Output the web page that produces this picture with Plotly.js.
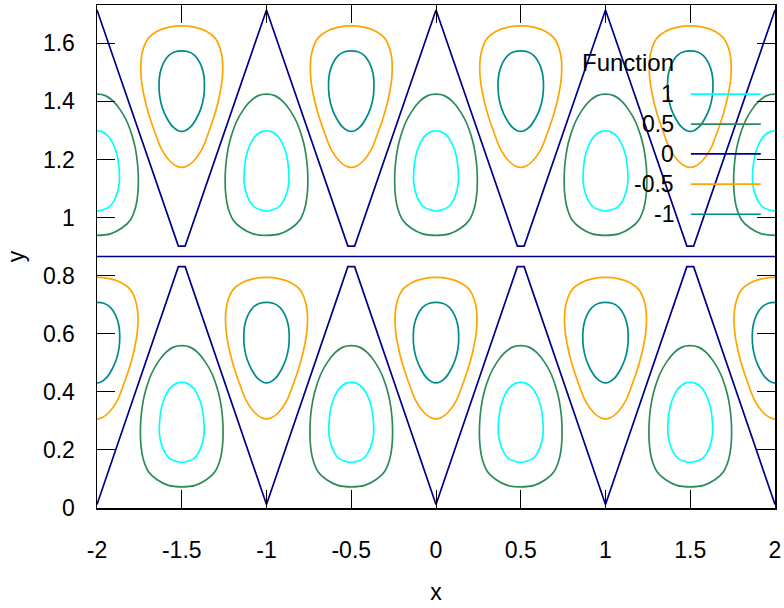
<!DOCTYPE html>
<html>
<head>
<meta charset="utf-8">
<script src="https://cdn.plot.ly/plotly-3.0.1.min.js"></script>
<style>
  html, body { margin: 0; padding: 0; background: #ffffff; }
  #chart { width: 784px; height: 608px; }
</style>
</head>
<body>
<div id="chart"></div>
<script>
// ---------- data ----------
const xTickVals = [-2, -1.5, -1, -0.5, 0, 0.5, 1, 1.5, 2];
const xTickText = ['-2', '-1.5', '-1', '-0.5', '0', '0.5', '1', '1.5', '2'];
const yTickVals = [0, 0.2, 0.4, 0.6, 0.8, 1, 1.2, 1.4, 1.6];
const yTickText = ['0', '0.2', '0.4', '0.6', '0.8', '1', '1.2', '1.4', '1.6'];

const levelNames = ['1', '0.5', '0', '-0.5', '-1'];

// contour loop outlines, offsets from the centre of their triangle cell
const loop1Dx = [0, .029, .069, .098, .118, .130, .132, .122, .098, .069, .029, 0, -.029, -.069, -.098, -.122, -.132, -.130, -.118, -.098, -.069, -.029, 0];
const loop1Dy = [.144, .141, .124, .095, .061, .015, -.031, -.065, -.100, -.120, -.129, -.132, -.129, -.120, -.100, -.065, -.031, .015, .061, .095, .124, .141, .144];

const loop05Dx = [0, .049, .098, .138, .177, .206, .226, .240, .244, .240, .226, .197, .147, .079, 0, -.079, -.147, -.197, -.226, -.240, -.244, -.240, -.226, -.206, -.177, -.138, -.098, -.049, 0];
const loop05Dy = [.270, .265, .244, .215, .175, .129, .084, .026, -.031, -.077, -.123, -.163, -.191, -.211, -.216, -.211, -.191, -.163, -.123, -.077, -.031, .026, .084, .129, .175, .215, .244, .265, .270];

const loopM05Dx = [0, .079, .147, .197, .226, .240, .240, .226, .197, .157, .118, .069, .029, 0, -.029, -.069, -.118, -.157, -.197, -.226, -.240, -.240, -.226, -.197, -.147, -.079, 0];
const loopM05Dy = [.217, .212, .198, .175, .140, .100, .043, -.014, -.083, -.152, -.209, -.249, -.266, -.270, -.266, -.249, -.209, -.152, -.083, -.014, .043, .100, .140, .175, .198, .212, .217];

const loopM1Dx = [0, .039, .079, .108, .128, .134, .130, .114, .088, .055, .020, 0, -.020, -.055, -.088, -.114, -.130, -.134, -.128, -.108, -.079, -.039, 0];
const loopM1Dy = [.131, .128, .114, .089, .054, .020, -.026, -.066, -.100, -.129, -.144, -.146, -.144, -.129, -.100, -.066, -.026, .020, .054, .089, .114, .128, .131];

// centres of the cells holding positive loops (levels 1, 0.5)
const posCentreX = [-2, -1, 0, 1, 2, -1.5, -0.5, 0.5, 1.5];
const posCentreY = [1.155, 1.155, 1.155, 1.155, 1.155, 0.289, 0.289, 0.289, 0.289];
// centres of the cells holding negative loops (levels -0.5, -1)
const negCentreX = [-1.5, -0.5, 0.5, 1.5, -2, -1, 0, 1, 2];
const negCentreY = [1.443, 1.443, 1.443, 1.443, 0.577, 0.577, 0.577, 0.577, 0.577];

// zero contour polylines
const zeroUpperX = [-2, -1.52, -1.48, -1, -0.52, -0.48, 0, 0.48, 0.52, 1, 1.48, 1.52, 2];
const zeroUpperY = [1.715, 0.902, 0.902, 1.715, 0.902, 0.902, 1.715, 0.902, 0.902, 1.715, 0.902, 0.902, 1.715];
const zeroLowerX = [-2, -1.52, -1.48, -1, -0.52, -0.48, 0, 0.48, 0.52, 1, 1.48, 1.52, 2];
const zeroLowerY = [0.012, 0.831, 0.831, 0.012, 0.831, 0.831, 0.012, 0.831, 0.831, 0.012, 0.831, 0.831, 0.012];
const zeroMidX = [-2, 2];
const zeroMidY = [0.866, 0.866];

// ---------- styling ----------
const levelColors = ['#00ffff', '#2e8b57', '#00008b', '#ffa500', '#008b8b'];
const FONT = '"Liberation Sans", Arial, sans-serif';
const FS = 23;

function buildLoops(cx, cy, dx, dy) {
  const xs = [], ys = [];
  for (let i = 0; i < cx.length; i++) {
    for (let j = 0; j < dx.length; j++) {
      xs.push(cx[i] + dx[j]);
      ys.push(cy[i] + dy[j]);
    }
    xs.push(null); ys.push(null);
  }
  return {x: xs, y: ys};
}

const l1 = buildLoops(posCentreX, posCentreY, loop1Dx, loop1Dy);
const l05 = buildLoops(posCentreX, posCentreY, loop05Dx, loop05Dy);
const lm05 = buildLoops(negCentreX, negCentreY, loopM05Dx, loopM05Dy);
const lm1 = buildLoops(negCentreX, negCentreY, loopM1Dx, loopM1Dy);
const zero = {
  x: zeroUpperX.concat([null], zeroLowerX, [null], zeroMidX),
  y: zeroUpperY.concat([null], zeroLowerY, [null], zeroMidY)
};

const series = [l1, l05, zero, lm05, lm1];
const traces = series.map((s, i) => ({
  type: 'scatter',
  mode: 'lines',
  name: levelNames[i],
  x: s.x,
  y: s.y,
  connectgaps: false,
  showlegend: false,
  hoverinfo: 'skip',
  line: {color: levelColors[i], width: 1.7, shape: (i === 2 ? 'linear' : 'spline'), smoothing: 1}
}));

// gnuplot-style key: label text on the left, line sample on the right
const keyRowY = [0.823, 0.763, 0.704, 0.644, 0.584];
const annotations = [{
  xref: 'paper', yref: 'paper', x: 0.854, y: 0.885,
  xanchor: 'right', yanchor: 'middle', showarrow: false,
  text: 'Function', font: {family: FONT, size: 24, color: '#000'}
}];
const shapes = [];
levelNames.forEach((n, i) => {
  annotations.push({
    xref: 'paper', yref: 'paper', x: 0.854, y: keyRowY[i],
    xanchor: 'right', yanchor: 'middle', showarrow: false,
    text: n, font: {family: FONT, size: FS, color: '#000'}
  });
  shapes.push({
    type: 'line', xref: 'paper', yref: 'paper',
    x0: 0.876, x1: 0.979, y0: keyRowY[i], y1: keyRowY[i],
    line: {color: levelColors[i], width: 1.7}
  });
});

const axisCommon = {
  showline: true, linecolor: '#000', linewidth: 1.5, mirror: 'ticks',
  ticks: 'inside', ticklen: 18, tickwidth: 1, tickcolor: '#000',
  showgrid: false, zeroline: false,
  tickfont: {family: FONT, size: FS, color: '#000'}
};

const layout = {
  width: 784, height: 608,
  margin: {l: 97, r: 9, t: 5, b: 100},
  paper_bgcolor: '#fff', plot_bgcolor: '#fff',
  font: {family: FONT, size: FS, color: '#000'},
  showlegend: false,
  xaxis: Object.assign({}, axisCommon, {
    range: [-2, 2], tickmode: 'array', tickvals: xTickVals, ticktext: xTickText,
    ticklabelstandoff: 21,
    title: {text: 'x', font: {family: FONT, size: FS, color: '#000'}, standoff: 22}
  }),
  yaxis: Object.assign({}, axisCommon, {
    range: [0, 1.7320508], tickmode: 'array', tickvals: yTickVals, ticktext: yTickText,
    ticklabelstandoff: 16,
    title: {text: 'y', font: {family: FONT, size: FS, color: '#000'}, standoff: 12}
  }),
  annotations: annotations,
  shapes: shapes
};

Plotly.newPlot('chart', traces, layout, {staticPlot: true, displayModeBar: false});
</script>
</body>
</html>
